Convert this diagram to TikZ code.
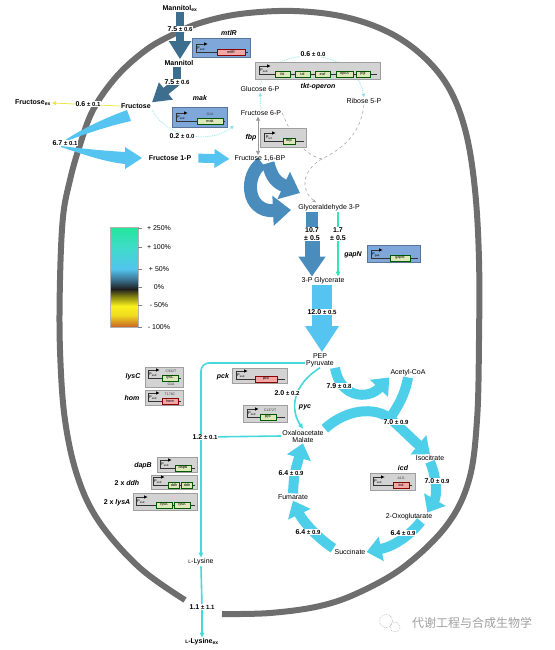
\documentclass[tikz,border=0pt]{standalone}
\usepackage{fontspec}
\setmainfont{Liberation Sans}
\newfontfamily\cjkfont{Noto Sans CJK SC}
\usetikzlibrary{arrows.meta,calc,backgrounds,positioning}

\definecolor{mtblue}{HTML}{3D6E8E}
\definecolor{glyblue}{HTML}{4A8DBD}
\definecolor{ltblue}{HTML}{55C4F0}
\definecolor{tcablue}{HTML}{4DCFEA}
\definecolor{mint}{HTML}{34E6B4}
\definecolor{cyanline}{HTML}{45D8DC}
\definecolor{dotcyan}{HTML}{8FE3E8}
\definecolor{cellgray}{HTML}{6E6E6E}
\definecolor{boxblue}{HTML}{7FA7DA}
\definecolor{boxgray}{HTML}{D3D3D3}
\definecolor{genegreen}{HTML}{DDE8B8}
\definecolor{genepink}{HTML}{F2A7A7}
\definecolor{fruyellow}{HTML}{EEE64A}

\newcommand{\flx}[2]{#1 {\fontsize{6}{7}\selectfont ± #2}}
\newcommand{\smL}{{\fontsize{5}{6}\selectfont L}}

\tikzset{
  promoter/.pic={
    \draw[black!80, line width=0.5pt] (0,0) -- (0,-8) -- (8,-8);
    \fill[black] (8,-6.3) -- (11.5,-8) -- (8,-9.7) -- cycle;
    \node[font=\fontsize{4}{4}\selectfont, inner sep=0] at (5,-3.2) {P\textsubscript{\tikzpictext}};
  }
}

\begin{document}
\begin{tikzpicture}[
    x=1pt, y=-1pt,
    met/.style={font=\fontsize{7}{8}\selectfont, inner sep=1pt, align=center},
    metb/.style={met, font=\fontsize{7}{8}\selectfont\bfseries},
    flux/.style={font=\fontsize{7}{8}\selectfont\bfseries, fill=white, inner sep=1pt, align=center},
    genelbl/.style={font=\fontsize{7}{8}\selectfont\bfseries\itshape, inner sep=1pt},
    gbox/.style={rectangle, draw=gray!75, fill=boxgray, inner sep=0},
    bbox/.style={rectangle, draw=boxblue!70!black, fill=boxblue, inner sep=0},
    gene/.style={rectangle, draw=green!35!black, fill=genegreen, inner sep=0,
        minimum height=6.5pt, font=\fontsize{3.8}{4}\selectfont},
    pgene/.style={gene, draw=red!55!black, fill=genepink},
    mutn/.style={font=\fontsize{3.5}{4}\selectfont, inner sep=0, text=black!75},
    bb/.style={black!80, line width=0.5pt},
    cell/.style={draw=cellgray, line width=6pt},
    mtstem/.style={draw=mtblue, line width=8pt},
    mtarr/.style={draw=mtblue, line width=8pt, -{Triangle[length=18pt,width=21pt]}},
    swirl/.style={draw=glyblue, line width=13pt, -{Triangle[length=18pt,width=29pt]}},
    glystem/.style={draw=glyblue, line width=12pt},
    glyarr/.style={draw=glyblue, line width=15pt, -{Triangle[length=20pt,width=26pt]}},
    lbsmall/.style={draw=ltblue, line width=9pt, -{Triangle[length=15pt,width=18pt]}},
    lbstem/.style={draw=ltblue, line width=20pt},
    lbarr/.style={draw=ltblue, line width=20pt, -{Triangle[length=26pt,width=32pt]}},
    tcastem/.style={draw=tcablue, line width=10pt},
    tcaarr/.style={draw=tcablue, line width=10pt, -{Triangle[length=15pt,width=24pt]}},
    cyline/.style={draw=cyanline, line width=1.6pt},
    cyarr/.style={cyline, -{Triangle[length=5pt,width=4.5pt]}},
    mintline/.style={draw=mint, line width=1.6pt},
    mintarr/.style={mintline, -{Triangle[length=5pt,width=4.5pt]}},
    dotarr/.style={draw=dotcyan, line width=0.8pt, densely dotted, -{Triangle[length=3.5pt,width=3.5pt]}},
    dashline/.style={draw=gray!70, line width=0.6pt, dashed},
    dasharr/.style={dashline, -{Stealth[length=4pt,width=3pt]}},
    yelarr/.style={draw=fruyellow, line width=0.8pt, -{Triangle[length=4pt,width=4pt]}},
    grayarr/.style={draw=gray!80, line width=0.8pt, {Triangle[length=4pt,width=4pt]}-{Triangle[length=4pt,width=4pt]}}
]
\useasboundingbox (0,0) rectangle (554,650);

    % Metabolites
    \node[metb] (mtex) at (180,8) {Mannitol\textsubscript{ex}};
    \node[metb] (mt) at (179,63) {Mannitol};
    \node[metb] (fru) at (136,106) {Fructose};
    \node[metb] (fruex) at (33,103) {Fructose\textsubscript{ex}};
    \node[metb] (fru1p) at (170,158) {Fructose 1-P};
    \node[met] (g6p) at (260,89) {Glucose 6-P};
    \node[met] (f6p) at (261,113) {Fructose 6-P};
    \node[met] (r5p) at (364,101) {Ribose 5-P};
    \node[met] (fbp16) at (260,159) {Fructose 1,6-BP};
    \node[met] (gap) at (329,208) {Glyceraldehyde 3-P};
    \node[met] (pg3) at (323,281) {3-P Glycerate};
    \node[met] (pep) at (320,360) {PEP\\[-1pt]Pyruvate};
    \node[met] (accoa) at (408,373) {Acetyl-CoA};
    \node[met] (oaa) at (303,436) {Oxaloacetate\\[-1pt]Malate};
    \node[met] (icit) at (430,458) {Isocitrate};
    \node[met] (akg) at (409,517) {2-Oxoglutarate};
    \node[met] (suc) at (350,552) {Succinate};
    \node[met] (fum) at (293,497) {Fumarate};
    \node[met] (lys) at (201,562) {\smL-Lysine};
    \node[metb] (lysex) at (202,642) {\smL-Lysine\textsubscript{ex}};

    % Fluxes
    \node[flux] (f1) at (180,29) {\flx{7.5}{0.6}};
    \node[flux] (f2) at (177,82) {\flx{7.5}{0.6}};
    \node[flux] (f3) at (88,104) {\flx{0.6}{0.1}};
    \node[flux] (f4) at (182,136) {\flx{0.2}{0.0}};
    \node[flux] (f5) at (65,143) {\flx{6.7}{0.1}};
    \node[flux] (f7) at (313,54) {\flx{0.6}{0.0}};
    \node[flux] (f8) at (312,234) {10.7\\± 0.5};
    \node[flux] (f9) at (338,234) {1.7\\± 0.5};
    \node[flux] (f10) at (322,312) {\flx{12.0}{0.5}};
    \node[flux] (f11) at (339,386) {\flx{7.9}{0.8}};
    \node[flux] (f12) at (287,393) {\flx{2.0}{0.2}};
    \node[flux] (f13) at (396,422) {\flx{7.0}{0.9}};
    \node[flux] (f14) at (437,481) {\flx{7.0}{0.9}};
    \node[flux] (f15) at (403,533) {\flx{6.4}{0.9}};
    \node[flux] (f16) at (308,532) {\flx{6.4}{0.9}};
    \node[flux] (f17) at (291,473) {\flx{6.4}{0.9}};
    \node[flux] (f18) at (205,437) {\flx{1.2}{0.1}};
    \node[flux] (f19) at (202,607) {\flx{1.1}{1.1}};

    % Gene cassettes
    \node[bbox, minimum width=58, minimum height=19] (mtlRbox) at (221,48) {};
    \draw[bb] (196,52) -- (248,52);
    \pic[pic text=sod] at (196,52) {promoter};
    \node[pgene, minimum width=28] at (231,52) {mtlR};
    \node[genelbl] at (229,33) {mtlR};

    \node[bbox, minimum width=55, minimum height=20] (makbox) at (199.5,117) {};
    \draw[bb] (176,121) -- (225,121);
    \pic[pic text=sod] at (176,121) {promoter};
    \node[gene, minimum width=26] at (210,121) {mak};
    \node[mutn] at (210,114) {G1A};
    \node[genelbl] at (200,98) {mak};

    \node[gbox, minimum width=125, minimum height=17] (tktbox) at (317.5,71) {};
    \draw[bb] (259,74) -- (377,74);
    \pic[pic text=sod] at (259,74) {promoter};
    \node[gene, minimum width=15] at (282.5,74) {tkt};
    \node[gene, minimum width=15] at (302.5,74) {tal};
    \node[gene, minimum width=15] at (322.5,74) {zwf};
    \node[gene, minimum width=17] at (344.5,74) {opcA};
    \node[gene, minimum width=14] at (363,74) {pgl};
    \node[genelbl] at (318,87) {tkt-operon};

    \node[gbox, minimum width=46, minimum height=19] (fbpbox) at (283,137.5) {};
    \draw[bb] (264,141) -- (304,141);
    \pic[pic text=tuf] at (264,141) {promoter};
    \node[gene, minimum width=12] at (289,141) {fbp};
    \node[genelbl] at (251,138) {fbp};

    \node[bbox, minimum width=53, minimum height=17] (gapNbox) at (393.5,253.5) {};
    \draw[bb] (371,258) -- (418,258);
    \pic[pic text=gap] at (371,258) {promoter};
    \node[gene, minimum width=20] at (400,258) {gapN};
    \node[genelbl] at (353,255) {gapN};

    \node[gbox, minimum width=55, minimum height=15] (pckbox) at (259.5,375.5) {};
    \draw[bb] (236,379) -- (285,379);
    \pic[pic text=sod] at (236,379) {promoter};
    \node[pgene, minimum width=22] at (266,379) {pck};
    \node[genelbl] at (223,377) {pck};

    \node[gbox, minimum width=44, minimum height=17] (pycbox) at (265,413.5) {};
    \draw[bb] (247,417) -- (285,417);
    \pic[pic text=sod] at (247,417) {promoter};
    \node[gene, minimum width=16] at (268,417) {pyc};
    \node[mutn] at (270,410) {C1372T};
    \node[genelbl] at (305,407) {pyc};

    \node[gbox, minimum width=38, minimum height=20] (lysCbox) at (164,377) {};
    \draw[bb] (148,378) -- (181,378);
    \pic[pic text=sod] at (148,378) {promoter};
    \node[gene, minimum width=16] at (170,378) {lysC};
    \node[mutn] at (171,371.5) {C932T};
    \node[mutn] at (171,384.5) {G1A};
    \node[genelbl] at (133,377) {lysC};

    \node[gbox, minimum width=38, minimum height=15] (hombox) at (164,397.5) {};
    \draw[bb] (148,401) -- (181,401);
    \pic[pic text=sod] at (148,401) {promoter};
    \node[pgene, minimum width=16] at (170,401) {hom};
    \node[mutn] at (170,394.5) {T176C};
    \node[genelbl] at (132,398) {hom};

    \node[gbox, minimum width=40, minimum height=15] (dapBbox) at (177,464.5) {};
    \draw[bb] (160,468) -- (195,468);
    \pic[pic text=sod] at (160,468) {promoter};
    \node[gene, minimum width=16] at (183,468) {dapB};
    \node[genelbl] at (143,466) {dapB};

    \node[gbox, minimum width=46, minimum height=14] (ddhbox) at (174,482) {};
    \draw[bb] (153,485) -- (195,485);
    \pic[pic text=sod] at (153,485) {promoter};
    \node[gene, minimum width=11] at (174,485) {ddh};
    \node[gene, minimum width=11] at (187,485) {ddh};
    \node[genelbl] at (127,483) {{\upshape 2 x} ddh};

    \node[gbox, minimum width=64, minimum height=17] (lysAbox) at (165,501.5) {};
    \draw[bb] (136,505) -- (195,505);
    \pic[pic text=sod] at (136,505) {promoter};
    \node[gene, minimum width=16] at (164,505) {lysA};
    \node[gene, minimum width=16] at (182,505) {lysA};
    \node[genelbl] at (117,503) {{\upshape 2 x} lysA};

    \node[gbox, minimum width=45, minimum height=17] (icdbox) at (392.5,481.5) {};
    \draw[bb] (373,485) -- (412,485);
    \pic[pic text=sod] at (373,485) {promoter};
    \node[pgene, minimum width=16] at (401,485) {icd};
    \node[mutn] at (401,478) {A1G};
    \node[genelbl] at (403,468) {icd};

    % Legend
    \shade[top color={rgb,255:red,34;green,230;blue,154}, bottom color={rgb,255:red,62;green,220;blue,200}] (110,227) rectangle (138,247);
    \shade[top color={rgb,255:red,62;green,220;blue,200}, bottom color={rgb,255:red,82;green,196;blue,238}] (110,247) rectangle (138,269);
    \shade[top color={rgb,255:red,82;green,196;blue,238}, bottom color={rgb,255:red,60;green,120;blue,150}] (110,269) rectangle (138,279);
    \shade[top color={rgb,255:red,60;green,120;blue,150}, bottom color={rgb,255:red,30;green,30;blue,30}] (110,279) rectangle (138,289);
    \shade[top color={rgb,255:red,30;green,30;blue,30}, bottom color={rgb,255:red,138;green,138;blue,16}] (110,289) rectangle (138,297);
    \shade[top color={rgb,255:red,138;green,138;blue,16}, bottom color={rgb,255:red,250;green,242;blue,30}] (110,297) rectangle (138,306);
    \shade[top color={rgb,255:red,250;green,242;blue,30}, bottom color={rgb,255:red,240;green,220;blue,30}] (110,306) rectangle (138,315);
    \shade[top color={rgb,255:red,240;green,220;blue,30}, bottom color={rgb,255:red,200;green,100;blue,40}] (110,315) rectangle (138,327);
    \draw[gray!60, line width=0.4pt] (110,227) rectangle (138,327);
    \foreach \yy/\lbl in {228/+ 250\%, 247/+ 100\%, 269/+ 50\%, 287/0\%, 305/- 50\%, 327/- 100\%} {
        \draw[gray, line width=0.4pt] (138,\yy) -- (142,\yy);
        \node[met] at (159,\yy) {\lbl};
    }

    % Watermark
    \node[font=\cjkfont\fontsize{12}{12}\selectfont, text=gray!75, inner sep=0] (wm) at (472,623) {代谢工程与合成生物学};
    \draw[gray!60, densely dotted, line width=0.6pt] (386,621) circle (6.5);
    \draw[gray!60, densely dotted, line width=0.6pt] (395,627) circle (5);

    \begin{scope}[on background layer]
    % Cell envelope
    \draw[cell] plot[smooth, tension=0.6] coordinates {(185,600) (140,568) (100,523) (78,478) (65,420) (60,350) (60,280) (63,217) (70,180) (79,148) (93,110) (117,76) (146,50) (172,35) (200,23) (240,14) (293,11) (345,17) (390,33) (425,58) (450,90) (466,133) (475,190) (479,260) (479,340) (477,420) (469,480) (447,525) (405,566) (360,592) (320,606) (270,613) (222,614)};

    % Mannitol uptake
    \draw[mtstem] (mtex.south) -- (f1.center);
    \draw[mtarr] (f1.center) -- (f1 |- mt.north);
    \draw[mtstem] (mt.south -| f2) -- (f2.center);
    \draw[mtarr] (f2.center) -- (fru.north east);

    % Fructose export and mak
    \draw[yelarr] (fru.west) -- (fruex.east);
    \draw[dotarr] (fru.south east) .. controls (165,137) and (210,145) .. ($(f6p.south west)+(-6,9)$);

    % 6.7 split arrow
    \fill[ltblue] (127,110) .. controls (100,120) and (78,131) .. (61,143) .. controls (80,136) and (104,127) .. (131,121) -- cycle;
    \fill[ltblue] (61,146) .. controls (85,149) and (108,151) .. (125,152) -- (125,147) -- (142,158) -- (125,169) -- (125,164) .. controls (105,162) and (82,154) .. (61,147) -- cycle;
    \draw[lbsmall, shorten <=6pt, shorten >=4pt] (fru1p.east) -- (fbp16.west);

    % Pentose phosphate pathway
    \draw[dotarr] (f6p.north) -- (g6p.south);
    \draw[dotarr] (g6p.north) .. controls (270,45) and (355,45) .. (r5p.north);
    \draw[grayarr] ($(f6p.south)+(-3,0)$) -- ($(fbp16.north)+(-2,0)$);
    \draw[dasharr] (r5p.south) .. controls (360,140) and (335,152) .. (320,160) .. controls (302,172) and (300,190) .. ($(gap.north west)+(19,-1)$);
    \draw[dashline] (f6p.east) .. controls (293,140) and (305,155) .. (322,159);

    % Glycolysis
    \draw[swirl] ($(fbp16.south)+(8,0)$) .. controls (272,178) and (276,182) .. (300,193);
    \draw[swirl] ($(fbp16.south)+(2,0)$) .. controls (245,174) and (245,212) .. (291,210);
    \draw[glystem] (gap.south -| f8) -- (f8.center);
    \draw[glyarr] (f8.center) -- (f8 |- pg3.north);
    \draw[mintline] (gap.south -| f9) -- (f9.center);
    \draw[mintarr] (f9.center) -- (f9 |- pg3.north);
    \draw[lbstem] (pg3.south -| f10) -- (f10.center);
    \draw[lbarr] (f10.center) -- (f10 |- pep.north);

    % TCA cycle
    \draw[tcaarr] (pep.south east) .. controls (340,398) and (368,400) .. (accoa.south west);
    \draw[tcastem] (accoa.south) .. controls (405,395) and (397,408) .. (390,418);
    \draw[tcaarr] (oaa.north east) .. controls (345,410) and (375,405) .. (392,420) .. controls (405,432) and (415,442) .. (icit.north);
    \draw[tcaarr] (icit.south) .. controls (437,478) and (437,496) .. ($(akg.north east)+(-6,0)$);
    \draw[tcaarr] ($(akg.south)+(12,0)$) .. controls (410,535) and (395,546) .. (suc.east);
    \draw[tcaarr] (suc.north west) .. controls (320,540) and (303,522) .. (fum.south);
    \draw[tcaarr] (fum.north) .. controls (294,475) .. (oaa.south);

    % Anaplerosis and lysine
    \draw[cyarr] (pep.south) .. controls (292,385) and (290,410) .. (oaa.north);
    \draw[cyarr, rounded corners=8pt] ($(pep.west)+(0,3)$) -| (lys.north);
    \draw[cyline] (oaa.west) -- (f18.center);
    \draw[cyline] (lys.south) -- (f19.center);
    \draw[cyarr] (f19.center) -- (lysex.north);
    \end{scope}
\end{tikzpicture}
\end{document}
